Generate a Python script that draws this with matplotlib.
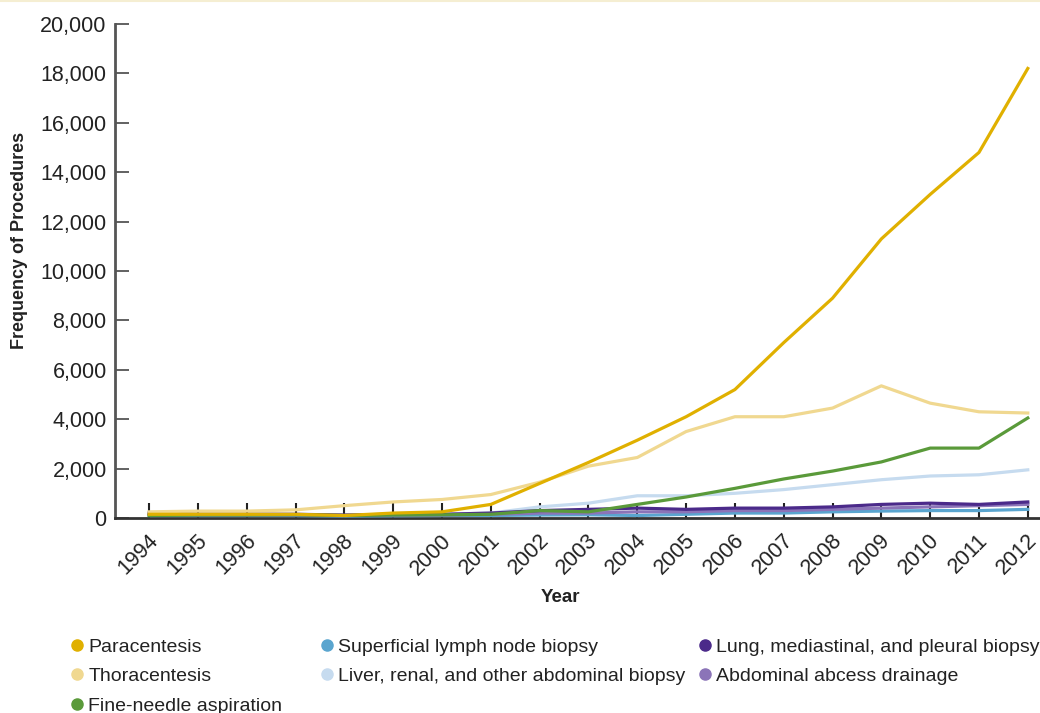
import numpy as np
from matplotlib import pyplot as plt
from matplotlib.lines import Line2D
from matplotlib.ticker import FuncFormatter
from matplotlib import transforms

years = list(range(1994, 2013))

paracentesis = [150, 150, 150, 150, 100, 200, 250, 550, 1400, 2250, 3150, 4100, 5200, 7100, 8900, 11300, 13100, 14800, 18200]
thoracentesis = [250, 280, 280, 330, 500, 650, 750, 950, 1450, 2100, 2450, 3500, 4100, 4100, 4450, 5350, 4650, 4300, 4250]
fine_needle = [100, 120, 120, 130, 100, 120, 130, 150, 300, 250, 550, 850, 1200, 1580, 1900, 2270, 2830, 2830, 4050]
superficial = [100, 100, 100, 100, 80, 90, 100, 100, 120, 130, 100, 150, 200, 200, 250, 280, 300, 300, 350]
liver = [100, 100, 100, 110, 100, 120, 150, 200, 450, 600, 900, 900, 1000, 1150, 1350, 1550, 1700, 1750, 1950]
lung = [200, 150, 150, 150, 120, 150, 150, 200, 300, 350, 400, 350, 400, 400, 450, 550, 600, 550, 650]
abscess = [150, 120, 120, 120, 100, 120, 120, 150, 200, 200, 250, 250, 300, 300, 350, 400, 450, 500, 550]

labels = ["Paracentesis", "Thoracentesis", "Fine-needle aspiration",
          "Superficial lymph node biopsy", "Liver, renal, and other abdominal biopsy",
          "Lung, mediastinal, and pleural biopsy", "Abdominal abcess drainage"]
series = [paracentesis, thoracentesis, fine_needle, superficial, liver, lung, abscess]
colors = ["#E0B000", "#F0D890", "#5A9A3A", "#5AA5CF", "#C6DBEF", "#4B2A8A", "#8B74B8"]
zorders = [7, 6, 5, 3, 2, 4, 3]

plt.rcParams['font.family'] = ['Liberation Sans', 'DejaVu Sans']

fig = plt.figure(figsize=(10.4, 7.13), dpi=100)
ax = fig.add_axes([115/1040, 1-518/713, 1-115/1040, (518-24)/713])

for s, c, z in zip(series, colors, zorders):
    ax.plot(years, s, color=c, lw=2.3, zorder=z)

ax.set_xlim(1993.3, 2012.25)
ax.set_ylim(0, 20000)
ax.set_xticks(years)
ax.set_yticks(range(0, 20001, 2000))
ax.yaxis.set_major_formatter(FuncFormatter(lambda v, p: f"{int(v):,}"))
ax.tick_params(axis='y', direction='in', length=10, width=1.3, color='#555555',
               labelsize=15.5, labelcolor='#222222', pad=6)
ax.tick_params(axis='x', direction='in', length=11, width=1.5, color='#222222', pad=14)
ax.set_xticklabels([str(y) for y in years], rotation=45, ha='right', va='center',
                   rotation_mode='anchor', fontsize=15.5, color='#222222')
# nudge year labels to the right, as in the original
shift = transforms.ScaledTranslation(6/100, 0, fig.dpi_scale_trans)
for lab in ax.get_xticklabels():
    lab.set_transform(lab.get_transform() + shift)
for sp in ['top', 'right']:
    ax.spines[sp].set_visible(False)
ax.spines['left'].set_color('#555555')
ax.spines['left'].set_linewidth(2)
ax.spines['bottom'].set_color('#333333')
ax.spines['bottom'].set_linewidth(2)

fig.text(20/1040, 1-240/713, "Frequency of Procedures", rotation=90, ha='center', va='center',
         fontsize=13, fontweight='bold', color='#222222')
fig.text(560/1040, 1-598/713, "Year", ha='center', va='center',
         fontsize=13.5, fontweight='bold', color='#222222')

# legend: three columns placed separately
col_starts = [65, 315, 693]
col_items = [[0, 1, 2], [3, 4], [5, 6]]
for x0, idx in zip(col_starts, col_items):
    hs = [Line2D([], [], ls='none', marker='o', markersize=8, color=colors[i]) for i in idx]
    leg = fig.legend(hs, [labels[i] for i in idx], loc='upper left',
                     bbox_to_anchor=(x0/1040, 1-638/713), frameon=False,
                     prop={'size': 14}, handletextpad=0.0, handlelength=1.2,
                     labelspacing=0.62, borderpad=0, borderaxespad=0)
    for t in leg.get_texts():
        t.set_color('#222222')

fig.add_artist(Line2D([0, 1], [1-1/713, 1-1/713], color='#F5EED2', lw=1.5))

fig.savefig("out.png", dpi=100)
